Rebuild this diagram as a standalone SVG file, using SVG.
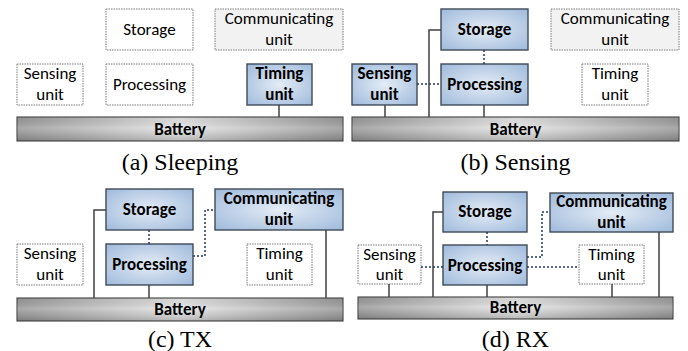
<svg xmlns="http://www.w3.org/2000/svg" width="688" height="351" viewBox="0 0 688 351">
<defs>
<radialGradient id="blue" cx="50%" cy="50%" r="70%">
<stop offset="0" stop-color="#e4ecf6"/>
<stop offset="1" stop-color="#9fbadb"/>
</radialGradient>
<linearGradient id="batH" x1="0" y1="0" x2="1" y2="0">
<stop offset="0" stop-color="#9a9a9a"/>
<stop offset="0.5" stop-color="#e6e6e6"/>
<stop offset="1" stop-color="#9a9a9a"/>
</linearGradient>
<linearGradient id="batV" x1="0" y1="0" x2="0" y2="1">
<stop offset="0" stop-color="#000" stop-opacity="0.05"/>
<stop offset="0.45" stop-color="#fff" stop-opacity="0.15"/>
<stop offset="1" stop-color="#000" stop-opacity="0.2"/>
</linearGradient>
</defs>
<style>
.on{fill:url(#blue);stroke:#3f4a58;stroke-width:1.4}
.off{fill:#fff;stroke:#7a7a7a;stroke-width:1;stroke-dasharray:1.5 1}
.offg{fill:#f2f2f2;stroke:#7a7a7a;stroke-width:1;stroke-dasharray:1.5 1}
.bat{fill:url(#batH);stroke:#505050;stroke-width:1.2}
.batv{fill:url(#batV);stroke:none}
text{font-family:Carlito,Lato,"Liberation Sans",sans-serif;font-size:17px;text-anchor:middle;fill:#000}
.b{font-weight:bold}
.cap{font-family:"Liberation Serif","Times New Roman",serif;font-size:24px}
.pw{fill:none;stroke:#404040;stroke-width:1.5}
.dt{fill:none;stroke:#1f3864;stroke-width:1.5;stroke-dasharray:2 2}
</style>

<!-- Panel a -->
<g id="a-storage"><rect class="off" x="106" y="9" width="87" height="41"/><text x="149.5" y="35">Storage</text></g>
<g id="a-comm"><rect class="offg" x="215" y="9" width="128" height="41"/><text x="279" y="24">Communicating<tspan x="279" dy="20.5">unit</tspan></text></g>
<g id="a-sensing"><rect class="off" x="17" y="64" width="66" height="41"/><text x="50" y="79">Sensing<tspan x="50" dy="20.5">unit</tspan></text></g>
<g id="a-processing"><rect class="off" x="106" y="64" width="87" height="41"/><text x="149.5" y="90">Processing</text></g>
<g id="a-timing"><rect class="on" x="247" y="64" width="65" height="41"/><text class="b" x="279.5" y="79">Timing<tspan x="279.5" dy="20.5">unit</tspan></text></g>
<g id="a-battery"><rect class="bat" x="17" y="117" width="326" height="24"/><rect class="batv" x="17" y="117" width="326" height="24"/><text class="b" x="180" y="135">Battery</text></g>
<text class="cap" x="180" y="170">(a) Sleeping</text>

<!-- Panel b -->
<g id="b-storage"><rect class="on" x="441" y="9" width="87" height="41"/><text class="b" x="484.5" y="35">Storage</text></g>
<g id="b-comm"><rect class="offg" x="551" y="9" width="128" height="41"/><text x="615" y="24">Communicating<tspan x="615" dy="20.5">unit</tspan></text></g>
<g id="b-sensing"><rect class="on" x="352" y="64" width="65" height="41"/><text class="b" x="384.5" y="79">Sensing<tspan x="384.5" dy="20.5">unit</tspan></text></g>
<g id="b-processing"><rect class="on" x="441" y="64" width="87" height="41"/><text class="b" x="484.5" y="90">Processing</text></g>
<g id="b-timing"><rect class="off" x="582" y="64" width="66" height="41"/><text x="615" y="79">Timing<tspan x="615" dy="20.5">unit</tspan></text></g>
<g id="b-battery"><rect class="bat" x="352" y="117" width="327" height="24"/><rect class="batv" x="352" y="117" width="327" height="24"/><text class="b" x="515.5" y="135">Battery</text></g>
<text class="cap" x="515.5" y="170">(b) Sensing</text>

<!-- Panel c -->
<g id="c-storage"><rect class="on" x="106" y="189" width="87" height="41"/><text class="b" x="149.5" y="215">Storage</text></g>
<g id="c-comm"><rect class="on" x="215" y="189" width="128" height="41"/><text class="b" x="279" y="204">Communicating<tspan x="279" dy="20.5">unit</tspan></text></g>
<g id="c-sensing"><rect class="off" x="17" y="244" width="66" height="41"/><text x="50" y="259">Sensing<tspan x="50" dy="20.5">unit</tspan></text></g>
<g id="c-processing"><rect class="on" x="106" y="244" width="87" height="41"/><text class="b" x="149.5" y="270">Processing</text></g>
<g id="c-timing"><rect class="off" x="247" y="244" width="65" height="41"/><text x="279.5" y="259">Timing<tspan x="279.5" dy="20.5">unit</tspan></text></g>
<g id="c-battery"><rect class="bat" x="17" y="298" width="326" height="23"/><rect class="batv" x="17" y="298" width="326" height="23"/><text class="b" x="180" y="315">Battery</text></g>
<text class="cap" x="180" y="347">(c) TX</text>

<!-- Panel d -->
<g id="d-storage"><rect class="on" x="443" y="192" width="84" height="40"/><text class="b" x="485" y="217">Storage</text></g>
<g id="d-comm"><rect class="on" x="550" y="193" width="123" height="39"/><text class="b" x="611.5" y="207">Communicating<tspan x="611.5" dy="20.5">unit</tspan></text></g>
<g id="d-sensing"><rect class="off" x="358" y="245" width="63" height="39"/><text x="389.5" y="259.5">Sensing<tspan x="389.5" dy="20.5">unit</tspan></text></g>
<g id="d-processing"><rect class="on" x="443" y="245" width="84" height="40"/><text class="b" x="485" y="271">Processing</text></g>
<g id="d-timing"><rect class="off" x="579" y="245" width="65" height="39"/><text x="611.5" y="259.5">Timing<tspan x="611.5" dy="20.5">unit</tspan></text></g>
<g id="d-battery"><rect class="bat" x="358" y="297" width="315" height="22"/><rect class="batv" x="358" y="297" width="315" height="22"/><text class="b" x="515.5" y="313">Battery</text></g>
<text class="cap" x="515.5" y="347">(d) RX</text>

<g id="connectors">
<path class="pw" d="M279 105V117"/>
<path class="pw" d="M385 105V117M429 117V30H441M484 105V117"/>
<path class="dt" d="M484 50V64M417 84H441"/>
<path class="pw" d="M94 298V210H106M149 285V298M326 230V298"/>
<path class="dt" d="M149 230V244M193 256H205V210H215"/>
<path class="pw" d="M389 284V297M433 297V212H443M487 285V297M612 284V297M659 232V297"/>
<path class="dt" d="M487 232V245M421 267H443M527 257H542V212H550M527 267H579"/>
</g>
</svg>
